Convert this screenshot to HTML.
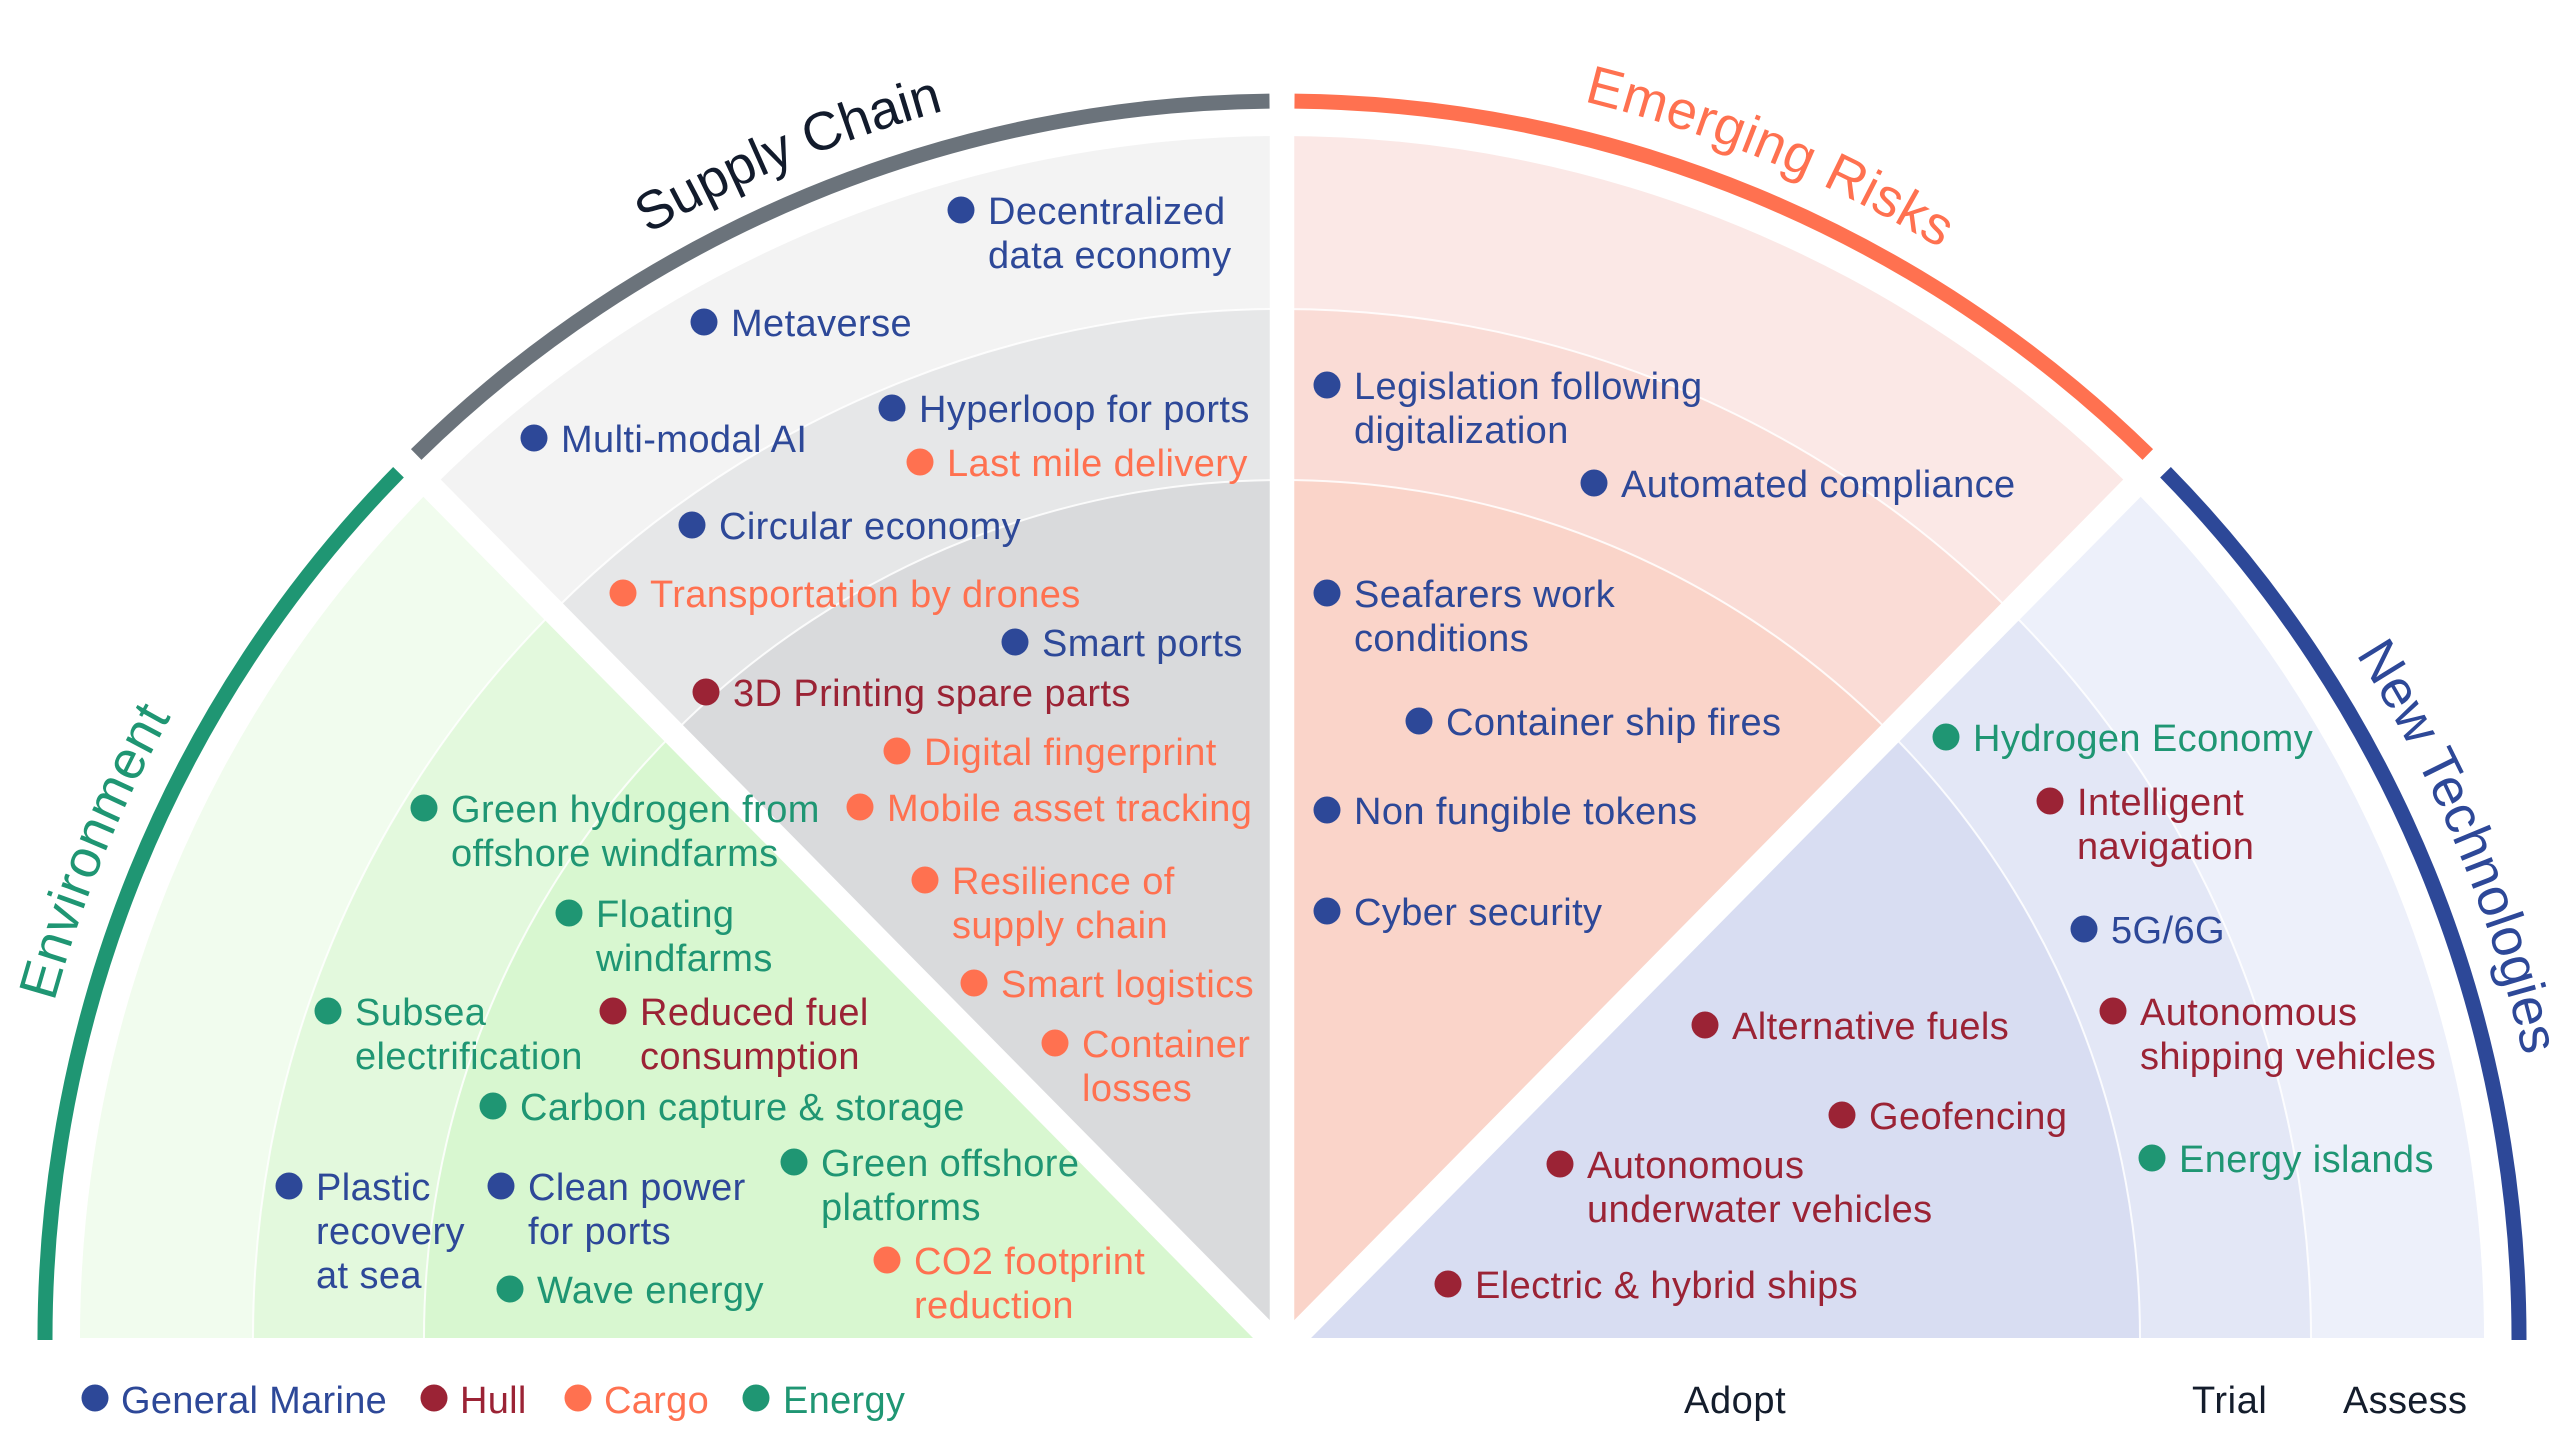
<!DOCTYPE html>
<html>
<head>
<meta charset="utf-8">
<style>
  html, body { margin: 0; padding: 0; background: #ffffff; }
  body { width: 2560px; height: 1455px; overflow: hidden; }
  svg { display: block; }
  .lbl { font-family: "Liberation Sans", Arial, sans-serif; font-size: 38px; letter-spacing: 0.4px; }
  .leg { font-family: "Liberation Sans", Arial, sans-serif; font-size: 38px; letter-spacing: 0.3px; }
  .ring { font-family: "Liberation Sans", Arial, sans-serif; font-size: 38px; letter-spacing: 0.6px; }
  .ttl { font-family: "Liberation Sans", Arial, sans-serif; font-size: 54px; }
  .B { fill: #2d4898; }
  .H { fill: #9b2335; }
  .C { fill: #ff7150; }
  .E { fill: #1f9673; }
  .K { fill: #141d2c; }
</style>
</head>
<body>
<svg width="2560" height="1455" viewBox="0 0 2560 1455" xmlns="http://www.w3.org/2000/svg">
  <rect x="0" y="0" width="2560" height="1455" fill="#ffffff"/>

  <!-- Environment sectors -->
  <path d="M1282,1338 L80,1338 A1202,1202 0 0 1 432.06,488.06 Z" fill="#f1fcee"/>
  <path d="M1282,1338 L253,1338 A1029,1029 0 0 1 554.39,610.39 Z" fill="#e3f9dd"/>
  <path d="M1282,1338 L424,1338 A858,858 0 0 1 675.30,731.30 Z" fill="#d8f7d0"/>

  <!-- Supply Chain sectors -->
  <path d="M1282,1338 L432.06,488.06 A1202,1202 0 0 1 1282,136 Z" fill="#f3f3f3"/>
  <path d="M1282,1338 L554.39,610.39 A1029,1029 0 0 1 1282,309 Z" fill="#e6e7e8"/>
  <path d="M1282,1338 L675.30,731.30 A858,858 0 0 1 1282,480 Z" fill="#d9dadc"/>

  <!-- Emerging Risks sectors -->
  <path d="M1282,1338 L1282,136 A1202,1202 0 0 1 2131.94,488.06 Z" fill="#fbe8e6"/>
  <path d="M1282,1338 L1282,309 A1029,1029 0 0 1 2009.61,610.39 Z" fill="#fadcd6"/>
  <path d="M1282,1338 L1282,480 A858,858 0 0 1 1888.70,731.30 Z" fill="#fad4c9"/>

  <!-- New Technologies sectors -->
  <path d="M1282,1338 L2131.94,488.06 A1202,1202 0 0 1 2484,1338 Z" fill="#edf0fa"/>
  <path d="M1282,1338 L2009.61,610.39 A1029,1029 0 0 1 2311,1338 Z" fill="#e3e7f6"/>
  <path d="M1282,1338 L1888.70,731.30 A858,858 0 0 1 2140,1338 Z" fill="#d8ddf2"/>

  <!-- thin ring boundaries -->
  <path d="M253,1338 A1029,1029 0 0 1 2311,1338" fill="none" stroke="#ffffff" stroke-width="2" stroke-opacity="0.85"/>
  <path d="M424,1338 A858,858 0 0 1 2140,1338" fill="none" stroke="#ffffff" stroke-width="2" stroke-opacity="0.85"/>

  <!-- white strips between quadrants -->
  <g stroke="#ffffff" stroke-width="24.5" stroke-linecap="butt">
    <line x1="1282" y1="1350" x2="422.9" y2="478.9"/>
    <line x1="1282" y1="1350" x2="1282" y2="123"/>
    <line x1="1282" y1="1350" x2="2141.1" y2="478.9"/>
  </g>
  <rect x="0" y="1338" width="2560" height="117" fill="#ffffff"/>

  <!-- outer colored arcs -->
  <g fill="none" stroke-width="15" stroke-linecap="butt">
    <path d="M45,1340 A1237,1237 0 0 1 398.5,472.2" stroke="#1f9673"/>
    <path d="M416.2,454.5 A1237,1237 0 0 1 1269.5,101.1" stroke="#6b737b"/>
    <path d="M1294.5,101.1 A1237,1237 0 0 1 2147.8,454.5" stroke="#ff7150"/>
    <path d="M2165.5,472.2 A1237,1237 0 0 1 2519,1340" stroke="#2d4898"/>
  </g>

  <!-- curved titles -->
  <defs>
    <path id="tp" d="M9,1338 A1273,1273 0 0 1 1282,65 A1273,1273 0 0 1 2555,1338"/>
  </defs>
  <text class="ttl" fill="#1f9673" letter-spacing="0.6"><textPath href="#tp" startOffset="340">Environment</textPath></text>
  <text class="ttl" fill="#121b2c"><textPath href="#tp" startOffset="1336">Supply Chain</textPath></text>
  <text class="ttl" fill="#ff7150" letter-spacing="0.7"><textPath href="#tp" startOffset="2304">Emerging Risks</textPath></text>
  <text class="ttl" fill="#2d4898"><textPath href="#tp" startOffset="3277">New Technologies</textPath></text>

  <!-- ===== Supply Chain items ===== -->
  <g class="lbl">
    <circle cx="961" cy="210" r="13.5" class="B"/>
    <text x="988" y="224" class="B"><tspan x="988">Decentralized</tspan><tspan x="988" dy="44">data economy</tspan></text>

    <circle cx="704" cy="322" r="13.5" class="B"/>
    <text x="731" y="336" class="B">Metaverse</text>

    <circle cx="892" cy="408" r="13.5" class="B"/>
    <text x="919" y="422" class="B">Hyperloop for ports</text>

    <circle cx="534" cy="438" r="13.5" class="B"/>
    <text x="561" y="452" class="B">Multi-modal AI</text>

    <circle cx="920" cy="462" r="13.5" class="C"/>
    <text x="947" y="476" class="C">Last mile delivery</text>

    <circle cx="692" cy="525" r="13.5" class="B"/>
    <text x="719" y="539" class="B">Circular economy</text>

    <circle cx="623" cy="593" r="13.5" class="C"/>
    <text x="650" y="607" class="C">Transportation by drones</text>

    <circle cx="1015" cy="642" r="13.5" class="B"/>
    <text x="1042" y="656" class="B">Smart ports</text>

    <circle cx="706" cy="692" r="13.5" class="H"/>
    <text x="733" y="706" class="H">3D Printing spare parts</text>

    <circle cx="897" cy="751" r="13.5" class="C"/>
    <text x="924" y="765" class="C">Digital fingerprint</text>

    <circle cx="860" cy="807" r="13.5" class="C"/>
    <text x="887" y="821" class="C">Mobile asset tracking</text>

    <circle cx="925" cy="880" r="13.5" class="C"/>
    <text x="952" y="894" class="C"><tspan x="952">Resilience of</tspan><tspan x="952" dy="44">supply chain</tspan></text>

    <circle cx="974" cy="983" r="13.5" class="C"/>
    <text x="1001" y="997" class="C">Smart logistics</text>

    <circle cx="1055" cy="1043" r="13.5" class="C"/>
    <text x="1082" y="1057" class="C"><tspan x="1082">Container</tspan><tspan x="1082" dy="44">losses</tspan></text>

    <!-- ===== Environment items ===== -->
    <circle cx="424" cy="808" r="13.5" class="E"/>
    <text x="451" y="822" class="E"><tspan x="451">Green hydrogen from</tspan><tspan x="451" dy="44">offshore windfarms</tspan></text>

    <circle cx="569" cy="913" r="13.5" class="E"/>
    <text x="596" y="927" class="E"><tspan x="596">Floating</tspan><tspan x="596" dy="44">windfarms</tspan></text>

    <circle cx="328" cy="1011" r="13.5" class="E"/>
    <text x="355" y="1025" class="E"><tspan x="355">Subsea</tspan><tspan x="355" dy="44">electrification</tspan></text>

    <circle cx="613" cy="1011" r="13.5" class="H"/>
    <text x="640" y="1025" class="H"><tspan x="640">Reduced fuel</tspan><tspan x="640" dy="44">consumption</tspan></text>

    <circle cx="493" cy="1106" r="13.5" class="E"/>
    <text x="520" y="1120" class="E">Carbon capture &amp; storage</text>

    <circle cx="289" cy="1186" r="13.5" class="B"/>
    <text x="316" y="1200" class="B"><tspan x="316">Plastic</tspan><tspan x="316" dy="44">recovery</tspan><tspan x="316" dy="44">at sea</tspan></text>

    <circle cx="501" cy="1186" r="13.5" class="B"/>
    <text x="528" y="1200" class="B"><tspan x="528">Clean power</tspan><tspan x="528" dy="44">for ports</tspan></text>

    <circle cx="794" cy="1162" r="13.5" class="E"/>
    <text x="821" y="1176" class="E"><tspan x="821">Green offshore</tspan><tspan x="821" dy="44">platforms</tspan></text>

    <circle cx="510" cy="1289" r="13.5" class="E"/>
    <text x="537" y="1303" class="E">Wave energy</text>

    <circle cx="887" cy="1260" r="13.5" class="C"/>
    <text x="914" y="1274" class="C"><tspan x="914">CO2 footprint</tspan><tspan x="914" dy="44">reduction</tspan></text>

    <!-- ===== Emerging Risks items ===== -->
    <circle cx="1327" cy="385" r="13.5" class="B"/>
    <text x="1354" y="399" class="B"><tspan x="1354">Legislation following</tspan><tspan x="1354" dy="44">digitalization</tspan></text>

    <circle cx="1594" cy="483" r="13.5" class="B"/>
    <text x="1621" y="497" class="B">Automated compliance</text>

    <circle cx="1327" cy="593" r="13.5" class="B"/>
    <text x="1354" y="607" class="B"><tspan x="1354">Seafarers work</tspan><tspan x="1354" dy="44">conditions</tspan></text>

    <circle cx="1419" cy="721" r="13.5" class="B"/>
    <text x="1446" y="735" class="B">Container ship fires</text>

    <circle cx="1327" cy="810" r="13.5" class="B"/>
    <text x="1354" y="824" class="B">Non fungible tokens</text>

    <circle cx="1327" cy="911" r="13.5" class="B"/>
    <text x="1354" y="925" class="B">Cyber security</text>

    <!-- ===== New Technologies items ===== -->
    <circle cx="1946" cy="737" r="13.5" class="E"/>
    <text x="1973" y="751" class="E">Hydrogen Economy</text>

    <circle cx="2050" cy="801" r="13.5" class="H"/>
    <text x="2077" y="815" class="H"><tspan x="2077">Intelligent</tspan><tspan x="2077" dy="44">navigation</tspan></text>

    <circle cx="2084" cy="929" r="13.5" class="B"/>
    <text x="2111" y="943" class="B">5G/6G</text>

    <circle cx="2113" cy="1011" r="13.5" class="H"/>
    <text x="2140" y="1025" class="H"><tspan x="2140">Autonomous</tspan><tspan x="2140" dy="44">shipping vehicles</tspan></text>

    <circle cx="2152" cy="1158" r="13.5" class="E"/>
    <text x="2179" y="1172" class="E">Energy islands</text>

    <circle cx="1705" cy="1025" r="13.5" class="H"/>
    <text x="1732" y="1039" class="H">Alternative fuels</text>

    <circle cx="1842" cy="1115" r="13.5" class="H"/>
    <text x="1869" y="1129" class="H">Geofencing</text>

    <circle cx="1560" cy="1164" r="13.5" class="H"/>
    <text x="1587" y="1178" class="H"><tspan x="1587">Autonomous</tspan><tspan x="1587" dy="44">underwater vehicles</tspan></text>

    <circle cx="1448" cy="1284" r="13.5" class="H"/>
    <text x="1475" y="1298" class="H">Electric &amp; hybrid ships</text>
  </g>

  <!-- ===== Legend ===== -->
  <g class="leg">
    <circle cx="95" cy="1398" r="13.5" class="B"/>
    <text x="121" y="1413" class="B">General Marine</text>
    <circle cx="434" cy="1398" r="13.5" class="H"/>
    <text x="460" y="1413" class="H">Hull</text>
    <circle cx="578" cy="1398" r="13.5" class="C"/>
    <text x="604" y="1413" class="C">Cargo</text>
    <circle cx="756" cy="1398" r="13.5" class="E"/>
    <text x="783" y="1413" class="E">Energy</text>
  </g>

  <!-- ring labels -->
  <g class="ring">
    <text x="1684" y="1413" class="K">Adopt</text>
    <text x="2192" y="1413" class="K">Trial</text>
    <text x="2343" y="1413" class="K" letter-spacing="0.3">Assess</text>
  </g>
</svg>
</body>
</html>
